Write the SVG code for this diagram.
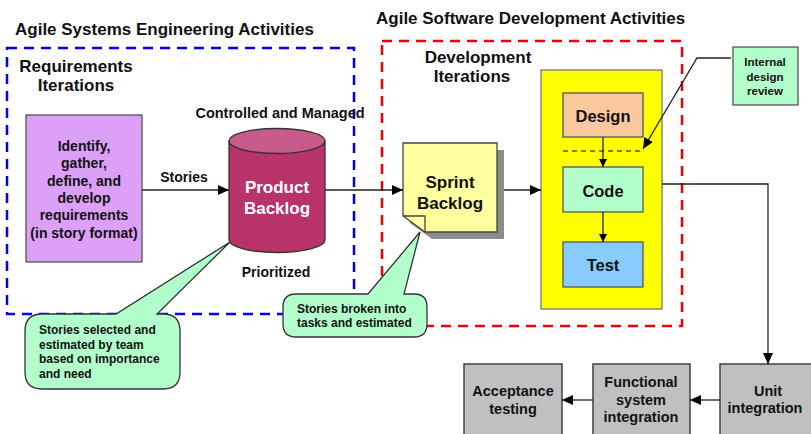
<svg xmlns="http://www.w3.org/2000/svg" width="811" height="434" viewBox="0 0 811 434">
<defs>
<marker id="ah" markerUnits="userSpaceOnUse" markerWidth="12" markerHeight="10" refX="11" refY="5" orient="auto">
<path d="M0,0 L11,5 L0,10 Z" fill="#000"/>
</marker>
<marker id="ahs" markerUnits="userSpaceOnUse" markerWidth="9" markerHeight="8" refX="8" refY="4" orient="auto">
<path d="M0,0 L8,4 L0,8 Z" fill="#000"/>
</marker>
<style>
text{font-family:"Liberation Sans",Arial,sans-serif;font-weight:bold;fill:#111;}
.h{font-size:17px;}
.m{font-size:14px;}
.c{text-anchor:middle;}
.box{stroke:#555;stroke-width:1.3;}
.gray{fill:#C0C0C0;stroke:#404040;stroke-width:1.5;}
.conn{stroke:#222;stroke-width:1.3;fill:none;}
.callout{fill:#B2FFCC;stroke:#333;stroke-width:1.3;}
</style>
</defs>
<rect width="811" height="434" fill="#fff"/>

<!-- group frames -->
<g id="systems-frame">
<rect x="7" y="48" width="347" height="266" fill="none" stroke="#0000EE" stroke-width="2.5" stroke-dasharray="10,7"/>
<text class="h" x="15" y="35">Agile Systems Engineering Activities</text>
<text class="h c" x="76" y="72">Requirements</text>
<text class="h c" x="76" y="91">Iterations</text>
</g>
<g id="software-frame">
<rect x="382" y="41" width="300" height="285" fill="none" stroke="#EE0000" stroke-width="2.5" stroke-dasharray="10,7"/>
<text class="h" x="376" y="24">Agile Software Development Activities</text>
<text class="h c" x="478" y="63">Development</text>
<text class="h c" x="472" y="82">Iterations</text>
</g>

<g id="requirements">
<rect class="box" x="26" y="115" width="116" height="147" fill="#DDA0F8"/>
<text class="m c" x="84" y="151">Identify,</text>
<text class="m c" x="84" y="168">gather,</text>
<text class="m c" x="84" y="186">define, and</text>
<text class="m c" x="84" y="203">develop</text>
<text class="m c" x="84" y="220">requirements</text>
<text class="m c" x="84" y="238">(in story format)</text>
</g>

<g id="product-backlog">
<text class="c" style="font-size:14.5px" x="280" y="118">Controlled and Managed</text>
<path d="M229 141 V240 A48 12.5 0 0 0 325 240 V141 Z" fill="#B8336A" stroke="#333" stroke-width="1.3"/>
<ellipse cx="277" cy="141" rx="48" ry="12.5" fill="#C95A8C" stroke="#333" stroke-width="1.3"/>
<text class="h c" x="277" y="193" style="fill:#fff">Product</text>
<text class="h c" x="277" y="214" style="fill:#fff">Backlog</text>
<text class="m c" x="276" y="277">Prioritized</text>
</g>

<g id="sprint-backlog">
<path d="M410 150 H504 V239 H432 L410 223 Z" fill="#8C8C8C"/>
<path d="M403 143 H497 V232 H425 L403 216 Z" fill="#FFFFA0" stroke="#444" stroke-width="1.3"/>
<path d="M403 216 H425 V232" fill="none" stroke="#444" stroke-width="1.3"/>
<text class="h c" x="450" y="188">Sprint</text>
<text class="h c" x="450" y="209">Backlog</text>
</g>

<g id="dev-iteration">
<rect x="541" y="70" width="121" height="239" fill="#FFFF00" stroke="#777" stroke-width="1.3"/>
</g>
<g id="design">
<rect class="box" x="563" y="93" width="80" height="44" fill="#FAC89E"/>
<text class="c" style="font-size:16.5px" x="603" y="122">Design</text>
</g>
<g id="code">
<rect class="box" x="563" y="167" width="80" height="45" fill="#B3FFCC"/>
<text class="c" style="font-size:16.5px" x="603" y="197">Code</text>
</g>
<g id="test">
<rect class="box" x="563" y="242" width="80" height="45" fill="#88CCFF"/>
<text class="c" style="font-size:16.5px" x="603" y="271">Test</text>
</g>
<g id="internal-review">
<rect class="box" x="733" y="47" width="65" height="58" fill="#B3FFCC" stroke="#333"/>
<text class="c" style="font-size:11.5px" x="765" y="66">Internal</text>
<text class="c" style="font-size:11.5px" x="765" y="81">design</text>
<text class="c" style="font-size:11.5px" x="765" y="95">review</text>
</g>

<g id="unit-integration">
<rect class="gray" x="720" y="364" width="96" height="80"/>
<text class="c" style="font-size:14.5px" x="768" y="396">Unit</text>
<text class="c" style="font-size:14.5px" x="765" y="413">integration</text>
</g>
<g id="functional-integration">
<rect class="gray" x="593" y="364" width="97" height="80"/>
<text class="c" style="font-size:14.5px" x="641" y="387">Functional</text>
<text class="c" style="font-size:14.5px" x="641" y="405">system</text>
<text class="c" style="font-size:14.5px" x="641" y="422">integration</text>
</g>
<g id="acceptance">
<rect class="gray" x="464" y="364" width="98" height="80"/>
<text class="c" style="font-size:14.5px" x="513" y="396">Acceptance</text>
<text class="c" style="font-size:14.5px" x="513" y="414">testing</text>
</g>

<g id="connectors">
<line class="conn" x1="142" y1="190" x2="229" y2="190" marker-end="url(#ah)"/>
<text class="m c" x="184" y="182">Stories</text>
<line class="conn" x1="325" y1="190" x2="403" y2="190" marker-end="url(#ah)"/>
<line class="conn" x1="504" y1="190" x2="541" y2="190" marker-end="url(#ah)"/>
<line x1="563" y1="151" x2="643" y2="151" stroke="#5a5a00" stroke-width="1.3" stroke-dasharray="5,4"/>
<line class="conn" x1="603" y1="137" x2="603" y2="167" marker-end="url(#ahs)"/>
<line class="conn" x1="603" y1="212" x2="603" y2="242" marker-end="url(#ahs)"/>
<polyline class="conn" points="731,58 697,58 643,149" marker-end="url(#ah)"/>
<polyline class="conn" points="662,184 768,184 768,364" marker-end="url(#ah)"/>
<line class="conn" x1="720" y1="400" x2="690" y2="400" marker-end="url(#ah)"/>
<line class="conn" x1="593" y1="400" x2="562" y2="400" marker-end="url(#ah)"/>
</g>

<g id="callout-selected">
<path class="callout" d="M42 314 H116 L230 242 L157 314 H163 Q180 314 180 331 V372 Q180 389 163 389 H42 Q25 389 25 372 V331 Q25 314 42 314 Z"/>
<text style="font-size:12px" x="39" y="334">Stories selected and</text>
<text style="font-size:12px" x="39" y="349">estimated by team</text>
<text style="font-size:12px" x="39" y="363">based on importance</text>
<text style="font-size:12px" x="39" y="378">and need</text>
</g>
<g id="callout-broken">
<path class="callout" d="M296 294 H368 L420 232 L404 294 H414 Q427 294 427 307 V324 Q427 337 414 337 H296 Q283 337 283 324 V307 Q283 294 296 294 Z"/>
<text style="font-size:12px" x="297" y="313">Stories broken into</text>
<text style="font-size:12px" x="297" y="327">tasks and estimated</text>
</g>
</svg>
